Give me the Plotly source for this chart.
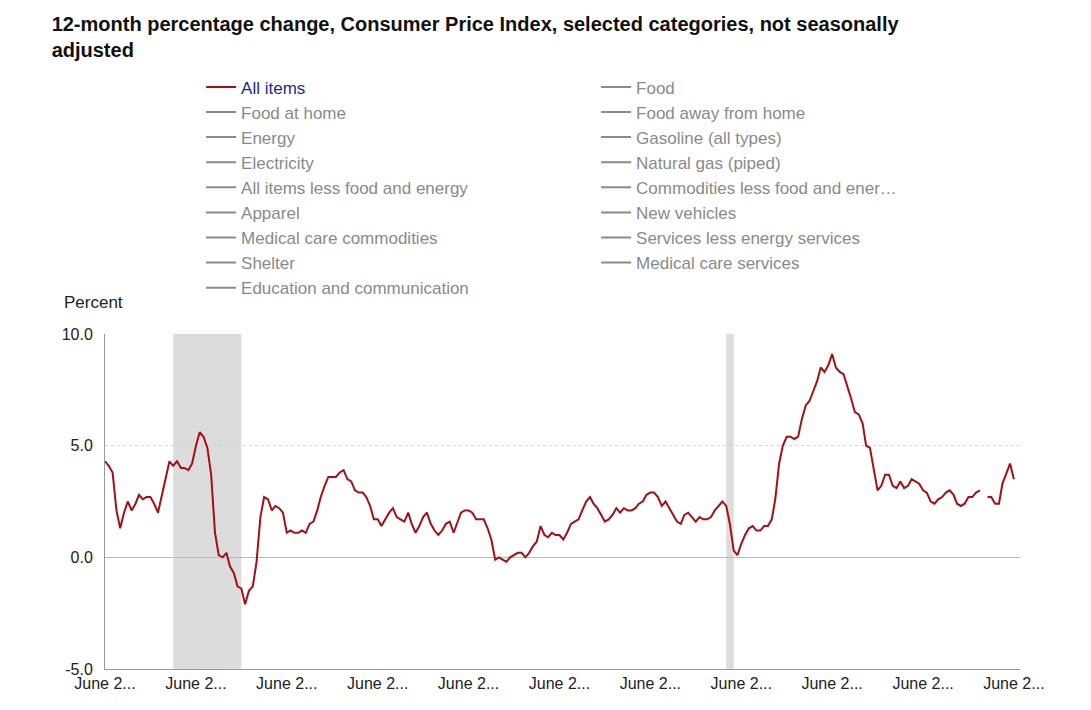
import plotly.graph_objects as go
import pandas as pd

start_month = "2006-06-01"
all_items = [
    4.3, 4.1, 3.8, 2.1, 1.3, 2.0, 2.5,                       # 2006 Jun-Dec
    2.1, 2.4, 2.8, 2.6, 2.7, 2.7, 2.4, 2.0, 2.8, 3.5, 4.3, 4.1,  # 2007
    4.3, 4.0, 4.0, 3.9, 4.2, 5.0, 5.6, 5.4, 4.9, 3.7, 1.1, 0.1,  # 2008
    0.0, 0.2, -0.4, -0.7, -1.3, -1.4, -2.1, -1.5, -1.3, -0.2, 1.8, 2.7,  # 2009
    2.6, 2.1, 2.3, 2.2, 2.0, 1.1, 1.2, 1.1, 1.1, 1.2, 1.1, 1.5,  # 2010
    1.6, 2.1, 2.7, 3.2, 3.6, 3.6, 3.6, 3.8, 3.9, 3.5, 3.4, 3.0,  # 2011
    2.9, 2.9, 2.7, 2.3, 1.7, 1.7, 1.4, 1.7, 2.0, 2.2, 1.8, 1.7,  # 2012
    1.6, 2.0, 1.5, 1.1, 1.4, 1.8, 2.0, 1.5, 1.2, 1.0, 1.2, 1.5,  # 2013
    1.6, 1.1, 1.5, 2.0, 2.1, 2.1, 2.0, 1.7, 1.7, 1.7, 1.3, 0.8,  # 2014
    -0.1, 0.0, -0.1, -0.2, 0.0, 0.1, 0.2, 0.2, 0.0, 0.2, 0.5, 0.7,  # 2015
    1.4, 1.0, 0.9, 1.1, 1.0, 1.0, 0.8, 1.1, 1.5, 1.6, 1.7, 2.1,  # 2016
    2.5, 2.7, 2.4, 2.2, 1.9, 1.6, 1.7, 1.9, 2.2, 2.0, 2.2, 2.1,  # 2017
    2.1, 2.2, 2.4, 2.5, 2.8, 2.9, 2.9, 2.7, 2.3, 2.5, 2.2, 1.9,  # 2018
    1.6, 1.5, 1.9, 2.0, 1.8, 1.6, 1.8, 1.7, 1.7, 1.8, 2.1, 2.3,  # 2019
    2.5, 2.3, 1.5, 0.3, 0.1, 0.6, 1.0, 1.3, 1.4, 1.2, 1.2, 1.4,  # 2020
    1.4, 1.7, 2.6, 4.2, 5.0, 5.4, 5.4, 5.3, 5.4, 6.2, 6.8, 7.0,  # 2021
    7.5, 7.9, 8.5, 8.3, 8.6, 9.1, 8.5, 8.3, 8.2, 7.7, 7.1, 6.5,  # 2022
    6.4, 6.0, 5.0, 4.9, 4.0, 3.0, 3.2, 3.7, 3.7, 3.2, 3.1, 3.4,  # 2023
    3.1, 3.2, 3.5, 3.4, 3.3, 3.0, 2.9, 2.5, 2.4, 2.6, 2.7, 2.9,  # 2024
    3.0, 2.8, 2.4, 2.3, 2.4, 2.7, 2.7, 2.9, 3.0, None, 2.7, 2.7,  # 2025
    2.4, 2.4, 3.3, 3.8, 4.2, 3.5,                             # 2026 Jan-Jun
]
other_series = ["Food", "Food at home", "Food away from home", "Energy",
                "Gasoline (all types)", "Electricity", "Natural gas (piped)",
                "All items less food and energy", "Commodities less food and ener…",
                "Apparel", "New vehicles", "Medical care commodities",
                "Services less energy services", "Shelter", "Medical care services",
                "Education and communication"]
tick_dates = [f"{y}-06-01" for y in range(2006, 2027, 2)]
tick_labels = ["June 2..."] * len(tick_dates)
recessions = [("2007-12-01", "2009-06-01"), ("2020-02-01", "2020-04-01")]

dates = pd.date_range(start_month, periods=len(all_items), freq="MS")

fig = go.Figure()
fig.add_trace(go.Scatter(x=dates, y=all_items, mode="lines", connectgaps=False,
                         line=dict(color="#a50f15", width=2),
                         name="<span style='color:#1f1f9f'>All items</span>"))
for n in other_series:
    fig.add_trace(go.Scatter(x=[None], y=[None], mode="lines",
                             line=dict(color="#8a8a8a", width=2),
                             name=f"<span style='color:#8a8a8a'>{n}</span>"))

for a, b in recessions:
    fig.add_shape(type="rect", xref="x", yref="paper", x0=a, x1=b, y0=0, y1=1,
                  fillcolor="#dcdcdc", line_width=0, layer="below")

fig.update_layout(
    width=1091, height=710,
    margin=dict(l=97, r=79, t=326, b=49, autoexpand=False),
    plot_bgcolor="white", paper_bgcolor="white",
    font=dict(family="Helvetica, Arial, Liberation Sans, sans-serif", size=17, color="#222"),
    title=dict(text="<b>12-month percentage change, Consumer Price Index, selected categories, not seasonally<br>adjusted</b>",
               x=0.04, xanchor="left", y=0.968, yanchor="top",
               font=dict(size=20, color="#111")),
    legend=dict(orientation="h", x=0.105, xanchor="left", y=1.79, yanchor="top",
                entrywidth=350, entrywidthmode="pixels", font=dict(size=17),
                itemwidth=30, tracegroupgap=0, bgcolor="rgba(0,0,0,0)"),
    showlegend=True,
    annotations=[dict(text="Percent", xref="paper", yref="paper", x=-0.047, y=1.06,
                      xanchor="left", yanchor="bottom", showarrow=False,
                      font=dict(size=17, color="#222"))],
    xaxis=dict(range=["2006-06-01", "2026-07-20"], tickvals=tick_dates, ticktext=tick_labels,
               showgrid=False, showline=True, linecolor="#999", ticks="",
               tickfont=dict(size=16, color="#222"), zeroline=False, automargin=False),
    yaxis=dict(range=[-5, 10], tickvals=[-5, 0, 5, 10], ticktext=["-5.0", "0.0", "5.0", "10.0"],
               showgrid=True, gridcolor="#cdd3e0", griddash="dot", showline=True,
               linecolor="#999", zeroline=True, zerolinecolor="#bbb", zerolinewidth=1,
               tickfont=dict(size=16, color="#222"), ticks="", automargin=False,
               ticklabelstandoff=8),
)
fig.write_html("out.html")
